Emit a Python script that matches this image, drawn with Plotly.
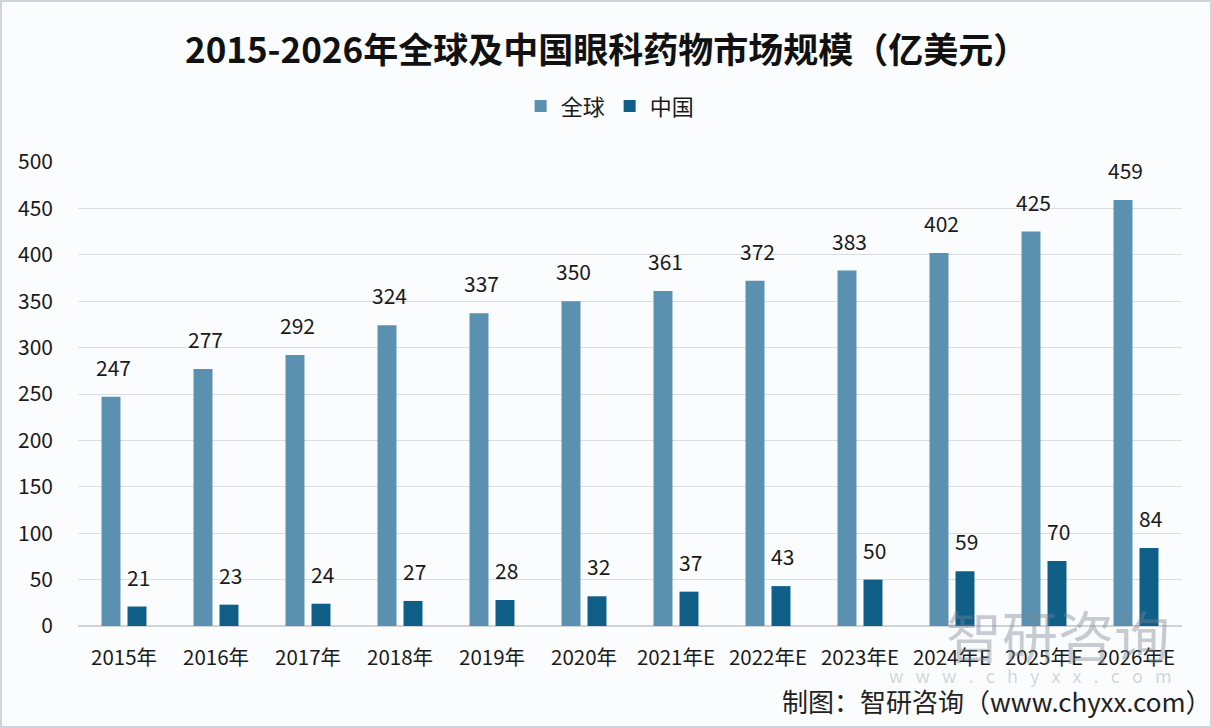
import plotly.graph_objects as go

categories = ["2015年", "2016年", "2017年", "2018年", "2019年", "2020年",
              "2021年E", "2022年E", "2023年E", "2024年E", "2025年E", "2026年E"]
global_vals = [247, 277, 292, 324, 337, 350, 361, 372, 383, 402, 425, 459]
china_vals = [21, 23, 24, 27, 28, 32, 37, 43, 50, 59, 70, 84]
y_ticks = [0, 50, 100, 150, 200, 250, 300, 350, 400, 450, 500]

C_GLOBAL = "#5a91b0"
C_CHINA = "#0f5f89"
FONT = "Noto Sans CJK SC"
PLOT_H = 464.0
PLOT_W = 1104.0

fig = go.Figure()
fig.add_trace(go.Bar(name="全球", x=categories, y=global_vals, marker_color=C_GLOBAL,
                     marker_line_width=0))
fig.add_trace(go.Bar(name="中国", x=categories, y=china_vals, marker_color=C_CHINA,
                     marker_line_width=0))

annotations = []
for c, g, h in zip(categories, global_vals, china_vals):
    annotations.append(dict(x=c, y=g, text=str(g), xshift=-11, yshift=13, showarrow=False,
                            yanchor="bottom", font=dict(size=21, color="#1a1a1a", family=FONT)))
    annotations.append(dict(x=c, y=h, text=str(h), xshift=14, yshift=13, showarrow=False,
                            yanchor="bottom", font=dict(size=21, color="#1a1a1a", family=FONT)))

# title
annotations.append(dict(xref="paper", yref="paper", x=0.479, y=1.0, yshift=115, showarrow=False,
                        text="<b>2015-2026年全球及中国眼科药物市场规模（亿美元）</b>",
                        yanchor="middle",
                        font=dict(size=35, color="#111111", family=FONT), xanchor="center"))
# watermark
annotations.append(dict(xref="paper", yref="paper", x=(1172 - 78) / PLOT_W, y=0.0, yshift=-7,
                        showarrow=False, text="智研咨询", xanchor="right", yanchor="middle",
                        font=dict(size=56, color="rgba(120,130,145,0.40)", family=FONT)))
annotations.append(dict(xref="paper", yref="paper", x=(1174 - 78) / PLOT_W, y=0.0, yshift=-49,
                        showarrow=False, text="w   w   w   .   c   h   y   x   x   .   c   o   m",
                        xanchor="right", yanchor="middle",
                        font=dict(size=18, color="rgba(150,160,170,0.42)", family=FONT)))
# footer
annotations.append(dict(xref="paper", yref="paper", x=(1214 - 78) / PLOT_W, y=0.0, yshift=-74,
                        showarrow=False, text="制图：智研咨询（www.chyxx.com）",
                        xanchor="right", yanchor="middle",
                        font=dict(size=26, color="#222222", family=FONT)))

fig.update_layout(
    width=1212, height=728,
    margin=dict(l=78, r=30, t=162, b=102),
    paper_bgcolor="#fbfcfd", plot_bgcolor="#fbfcfd",
    barmode="group", bargap=0.435, bargroupgap=0.27,
    font=dict(family=FONT, color="#1a1a1a"),
    showlegend=True,
    legend=dict(orientation="h", x=0.482, xanchor="center", y=1.075, yanchor="bottom",
                font=dict(size=22, family=FONT, color="#1a1a1a"),
                itemwidth=30, traceorder="normal"),
    annotations=annotations,
    xaxis=dict(showgrid=False, showline=False, ticks="", tickfont=dict(size=20.5, color="#1a1a1a"),
               ticklabelstandoff=17),
    yaxis=dict(range=[0, 500], tickvals=y_ticks, showgrid=True, gridcolor="#d9dde2",
               gridwidth=1, zeroline=True, zerolinecolor="#cfd3d8", showline=False,
               tickfont=dict(size=21, color="#1a1a1a"), ticklabelstandoff=24),
)
fig.add_shape(type="rect", xref="paper", yref="paper",
              x0=-77.0 / PLOT_W, x1=1 + 29.0 / PLOT_W, y0=-101.0 / PLOT_H, y1=1 + 161.0 / PLOT_H,
              line=dict(color="#cfd4da", width=2), fillcolor="rgba(0,0,0,0)", layer="below")

fig.write_html("out.html", config={"displayModeBar": False},
               post_script="document.body.style.margin='0';")
